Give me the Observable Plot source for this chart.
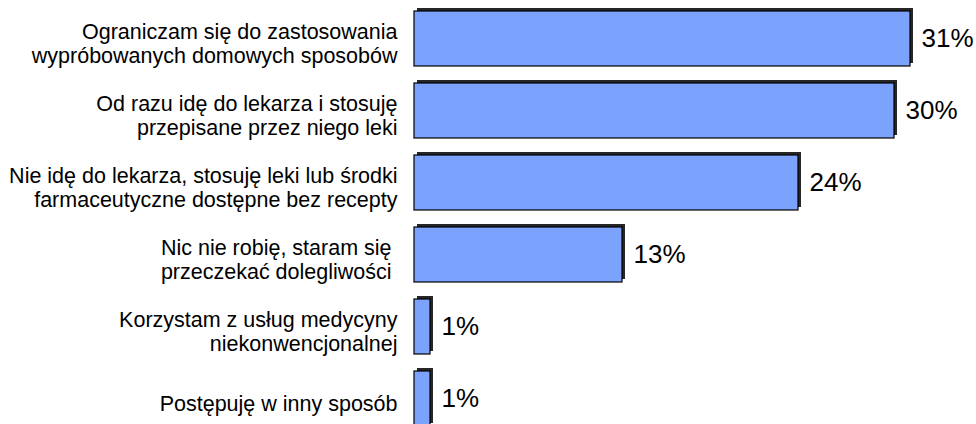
<!DOCTYPE html>
<html>
<head>
<meta charset="utf-8">
<script src="https://cdn.jsdelivr.net/npm/d3@7"></script>
<script src="https://cdn.jsdelivr.net/npm/@observablehq/plot@0.6"></script>
<style>
  html, body { margin: 0; padding: 0; background: #fff; overflow: hidden; }
  #chart svg { display: block; font-family: "Liberation Sans", Arial, sans-serif; }
</style>
</head>
<body>
<div id="chart"></div>
<script>
const categories = [
  "Ograniczam się do zastosowania\nwypróbowanych domowych sposobów",
  "Od razu idę do lekarza i stosuję\nprzepisane przez niego leki",
  "Nie idę do lekarza, stosuję leki lub środki\nfarmaceutyczne dostępne bez recepty",
  "Nic nie robię, staram się\u00a0\nprzeczekać dolegliwości\u00a0",
  "Korzystam z usług medycyny\nniekonwencjonalnej",
  "Postępuję w inny sposób"
];
const values = [31, 30, 24, 13, 1, 1];
const valueLabels = ["31%", "30%", "24%", "13%", "1%", "1%"];

const data = categories.map((c, i) => ({category: c, value: values[i], label: valueLabels[i]}));

const chart = Plot.plot({
  width: 976,
  height: 424,
  marginTop: 0,
  marginBottom: 0,
  marginLeft: 414,
  marginRight: 66,
  style: {fontFamily: "'Liberation Sans', Arial, sans-serif", background: "#fff", overflow: "visible"},
  x: {domain: [0, 31], range: [414, 910], axis: null},
  y: {domain: categories, range: [1.3, 435.7], paddingInner: 0.24, paddingOuter: 0.12, axis: null},
  marks: [
    // depth (3D side)
    Plot.barX(data, {x1: 0, x2: "value", y: "category", fill: "#262626", dx: 3, dy: -3}),
    // front face
    Plot.barX(data, {x1: 0, x2: "value", y: "category", fill: "#7ba3fd", stroke: "#000", strokeWidth: 1.2}),
    // value labels
    Plot.text(data, {x: "value", y: "category", text: "label", textAnchor: "start", dx: 11, fontSize: 26, fill: "#000"}),
    // category labels
    Plot.text(data, {x: 0, y: "category", text: "category", textAnchor: "end", dx: -17, dy: 4, fontSize: 21.5, lineHeight: 1.15, fill: "#000"})
  ]
});
document.getElementById("chart").appendChild(chart);
</script>
</body>
</html>
